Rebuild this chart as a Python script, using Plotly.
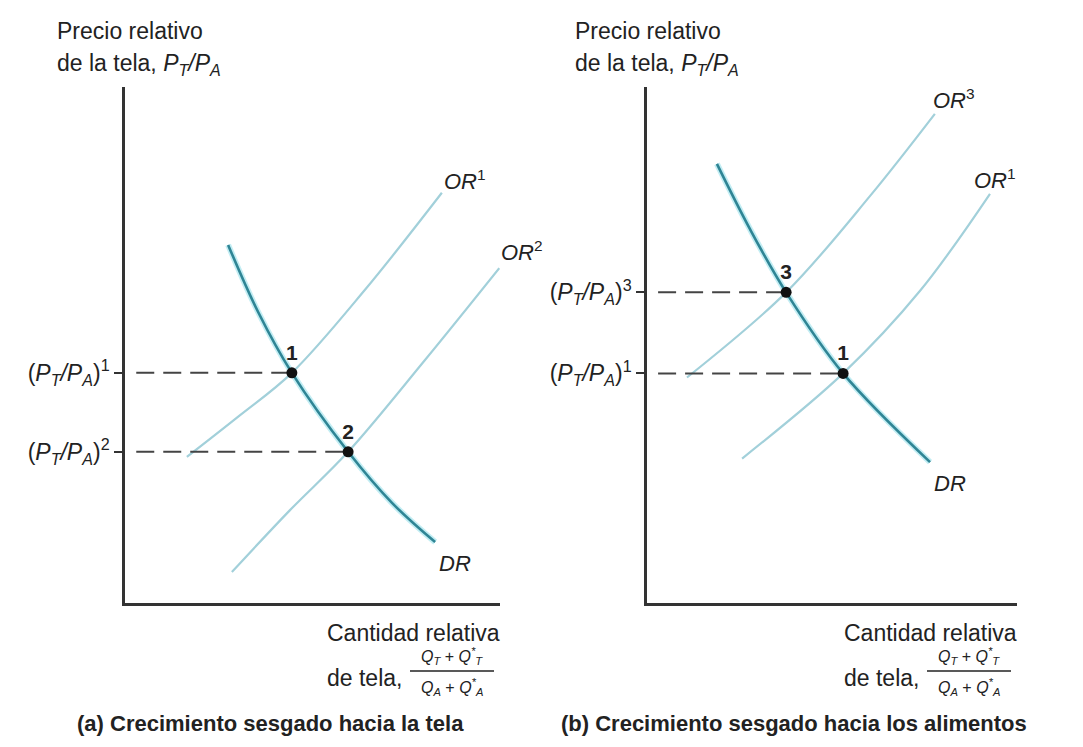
import plotly.graph_objects as go

# ---- Panel (a): growth biased toward cloth ----
dr_a_x = [2.75, 3.55, 4.45, 5.95, 7.12, 8.27]
dr_a_y = [6.94, 5.64, 4.46, 2.93, 1.94, 1.18]
or1_a_x = [1.65, 3.07, 4.45, 6.40, 8.45]
or1_a_y = [2.83, 3.64, 4.46, 6.07, 7.95]
or2_a_x = [2.85, 4.40, 5.95, 8.00, 9.98]
or2_a_y = [0.60, 1.80, 2.93, 4.71, 6.49]
eq_a_x = [4.45, 5.95]
eq_a_y = [4.46, 2.93]
eq_a_names = ["1", "2"]
ticks_a = ["(<i>P<sub>T</sub>/P<sub>A</sub></i>)<sup>1</sup>",
           "(<i>P<sub>T</sub>/P<sub>A</sub></i>)<sup>2</sup>"]

# ---- Panel (b): growth biased toward food ----
dr_b_x = [1.89, 2.78, 3.76, 5.30, 7.65]
dr_b_y = [8.51, 7.25, 6.02, 4.45, 2.73]
or3_b_x = [1.08, 3.76, 6.03, 7.78]
or3_b_y = [4.37, 6.02, 7.89, 9.48]
or1_b_x = [2.57, 5.30, 7.38, 9.27]
or1_b_y = [2.80, 4.45, 6.05, 7.93]
eq_b_x = [3.76, 5.30]
eq_b_y = [6.02, 4.45]
eq_b_names = ["3", "1"]
ticks_b = ["(<i>P<sub>T</sub>/P<sub>A</sub></i>)<sup>3</sup>",
           "(<i>P<sub>T</sub>/P<sub>A</sub></i>)<sup>1</sup>"]

W, H = 1083, 747
FONT = "Liberation Sans, Arial, sans-serif"
INK = "#222222"
DR_COLOR = "#2f8595"
DR_GLOW = "rgba(120,215,228,0.45)"
OR_COLOR = "#a2d0da"
DASH_COLOR = "#444444"


def px(x):
    return x / W


def py(y):
    return 1 - y / H


fig = go.Figure()


def add_panel(xa, ya, dr_x, dr_y, supplies, eq_x, eq_y, eq_names):
    # supply curves (light)
    for sx, sy, name, shift in supplies:
        fig.add_trace(go.Scatter(x=sx, y=sy, mode="lines", xaxis=xa, yaxis=ya,
                                 line=dict(color=OR_COLOR, width=2.2, shape="spline", smoothing=1.0),
                                 hoverinfo="skip"))
        fig.add_annotation(x=sx[-1], y=sy[-1], xref=xa, yref=ya, text=name, showarrow=False,
                           xanchor="left", yanchor="middle", xshift=shift[0], yshift=shift[1],
                           font=dict(family=FONT, size=22, color=INK))
    # demand curve with soft halo
    fig.add_trace(go.Scatter(x=dr_x, y=dr_y, mode="lines", xaxis=xa, yaxis=ya,
                             line=dict(color=DR_GLOW, width=6, shape="spline", smoothing=1.0),
                             hoverinfo="skip"))
    fig.add_trace(go.Scatter(x=dr_x, y=dr_y, mode="lines", xaxis=xa, yaxis=ya,
                             line=dict(color=DR_COLOR, width=2.6, shape="spline", smoothing=1.0),
                             hoverinfo="skip"))
    fig.add_annotation(x=dr_x[-1], y=dr_y[-1], xref=xa, yref=ya, text="<i>DR</i>", showarrow=False,
                       xanchor="left", yanchor="middle", xshift=2, yshift=-21,
                       font=dict(family=FONT, size=22, color=INK))
    # dashed price guides
    for ex, ey in zip(eq_x, eq_y):
        fig.add_trace(go.Scatter(x=[0.3, ex], y=[ey, ey], mode="lines", xaxis=xa, yaxis=ya,
                                 line=dict(color=DASH_COLOR, width=2, dash="18px,9px"),
                                 hoverinfo="skip"))
    # equilibrium points
    fig.add_trace(go.Scatter(x=eq_x, y=eq_y, mode="markers+text", xaxis=xa, yaxis=ya,
                             marker=dict(color="#111111", size=11),
                             text=["<b>%s</b>" % n for n in eq_names], textposition="top center",
                             textfont=dict(family=FONT, size=21, color=INK),
                             hoverinfo="skip"))


add_panel("x", "y", dr_a_x, dr_a_y,
          [(or1_a_x, or1_a_y, "<i>OR</i><sup>1</sup>", (0, 13)),
           (or2_a_x, or2_a_y, "<i>OR</i><sup>2</sup>", (0, 17))],
          eq_a_x, eq_a_y, eq_a_names)
add_panel("x2", "y2", dr_b_x, dr_b_y,
          [(or3_b_x, or3_b_y, "<i>OR</i><sup>3</sup>", (-4, 15)),
           (or1_b_x, or1_b_y, "<i>OR</i><sup>1</sup>", (-18, 15))],
          eq_b_x, eq_b_y, eq_b_names)

ydom = [py(603), py(87)]
common_x = dict(range=[0, 10], showline=True, linecolor="#333333", linewidth=2.6,
                showgrid=False, zeroline=False, showticklabels=False, ticks="", fixedrange=True)
common_y = dict(range=[0, 10], showline=True, linecolor="#333333", linewidth=2.6,
                showgrid=False, zeroline=False, ticks="outside", ticklen=8, tickwidth=1.8,
                tickcolor="#333333", tickfont=dict(family=FONT, size=23, color=INK), fixedrange=True)

fig.update_layout(
    width=W, height=H, margin=dict(l=0, r=0, t=0, b=0),
    paper_bgcolor="white", plot_bgcolor="white", showlegend=False,
    xaxis=dict(domain=[px(125), px(500)], anchor="y", **common_x),
    yaxis=dict(domain=ydom, anchor="x", tickvals=eq_a_y, ticktext=ticks_a, **common_y),
    xaxis2=dict(domain=[px(647), px(1017)], anchor="y2", **common_x),
    yaxis2=dict(domain=ydom, anchor="x2", tickvals=eq_b_y, ticktext=ticks_b, **common_y),
)

txt = dict(family=FONT, size=23, color=INK)
small = dict(family=FONT, size=16, color=INK)


def label(x, y, text, font=txt, xanchor="left"):
    fig.add_annotation(x=px(x), y=py(y), xref="paper", yref="paper", text=text, showarrow=False,
                       xanchor=xanchor, yanchor="middle", font=font)


# axis titles
for left in (55, 573):
    label(left, 31, "Precio relativo")
    label(left, 65, "de la tela, <i>P<sub>T</sub>/P<sub>A</sub></i>")

for left, fc in ((325, 452), (842, 969)):
    label(left, 633, "Cantidad relativa")
    label(left, 678, "de tela,")
    label(fc, 656, "<i>Q<sub>T</sub></i> + <i>Q<sup>*</sup><sub>T</sub></i>", small, "center")
    label(fc, 687, "<i>Q<sub>A</sub></i> + <i>Q<sup>*</sup><sub>A</sub></i>", small, "center")
    fig.add_shape(type="line", xref="paper", yref="paper", x0=px(fc - 42), x1=px(fc + 42),
                  y0=py(671), y1=py(671), line=dict(color=INK, width=1.3))

cap = dict(family=FONT, size=22, color=INK)
label(270, 723, "<b>(a) Crecimiento sesgado hacia la tela</b>", cap, "center")
label(794, 723, "<b>(b) Crecimiento sesgado hacia los alimentos</b>", cap, "center")

fig.write_html("out.html")
